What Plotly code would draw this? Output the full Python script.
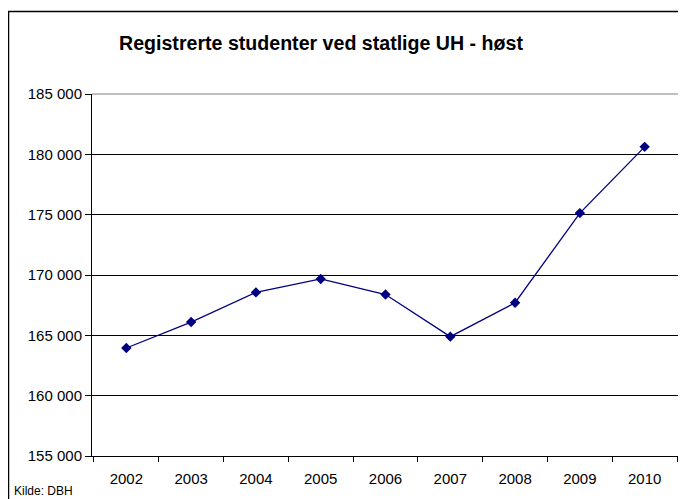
import plotly.graph_objects as go

years = ["2002", "2003", "2004", "2005", "2006", "2007", "2008", "2009", "2010"]
students = [163950, 166100, 168560, 169670, 168380, 164890, 167700, 175130, 180620]
y_tickvals = [155000, 160000, 165000, 170000, 175000, 180000, 185000]
y_ticktext = ["155 000", "160 000", "165 000", "170 000", "175 000", "180 000", "185 000"]
title_text = "Registrerte studenter ved statlige UH - høst"
source_text = "Kilde: DBH"

# page body has an 8px margin; figure coordinates are screen coords minus 8
OFF = 8
W, H = 686 - OFF, 499 - OFF
ML, MT = 92 - OFF, 94 - OFF
MR = W - (679 - OFF)
MB = H - (456 - OFF)
PW, PH = W - ML - MR, H - MT - MB

def px(x):
    return (x - OFF - ML) / PW

def py(y):
    return (H - MB - (y - OFF)) / PH

fig = go.Figure()
fig.add_trace(go.Scatter(
    x=years, y=students, mode="lines+markers",
    line=dict(color="#000080", width=1.3),
    marker=dict(symbol="diamond", size=8, color="#000080"),
    showlegend=False, cliponaxis=False,
))

fig.update_layout(
    width=W, height=H,
    margin=dict(l=ML, r=MR, t=MT, b=MB),
    paper_bgcolor="white", plot_bgcolor="white",
    font=dict(family="Liberation Sans, Arial, sans-serif", color="black"),
    xaxis=dict(
        type="category", tickson="boundaries",
        showline=True, linecolor="black", linewidth=1,
        ticks="outside", ticklen=5, tickcolor="black",
        showgrid=False, tickfont=dict(size=15), zeroline=False,
        ticklabelstandoff=9,
    ),
    yaxis=dict(
        range=[155000, 185000], tickvals=y_tickvals, ticktext=y_ticktext,
        showline=True, linecolor="black", linewidth=1,
        ticks="outside", ticklen=6, tickcolor="black",
        showgrid=True, gridcolor="black", gridwidth=1,
        tickfont=dict(size=15), zeroline=False,
    ),
    shapes=[
        # outer chart frame (extends past window right/bottom)
        dict(type="rect", xref="paper", yref="paper",
             x0=px(8.5), x1=px(730), y0=py(540), y1=py(11.5),
             line=dict(color="black", width=1.5), layer="below"),
        # grey plot-area border top and right
        dict(type="line", xref="paper", yref="paper", x0=0, x1=1, y0=1, y1=1,
             line=dict(color="#808080", width=1.2)),
        dict(type="line", xref="paper", yref="paper", x0=1, x1=1, y0=0, y1=1,
             line=dict(color="#808080", width=1.2)),
    ],
    annotations=[
        dict(text="<b>" + title_text + "</b>", xref="paper", yref="paper",
             x=px(117), y=py(43.5), xanchor="left", yanchor="middle",
             showarrow=False, font=dict(size=19.6, color="black")),
        dict(text=source_text, xref="paper", yref="paper",
             x=px(12), y=py(491), xanchor="left", yanchor="middle",
             showarrow=False, font=dict(size=12, color="black")),
    ],
)

fig.write_html("out.html")
